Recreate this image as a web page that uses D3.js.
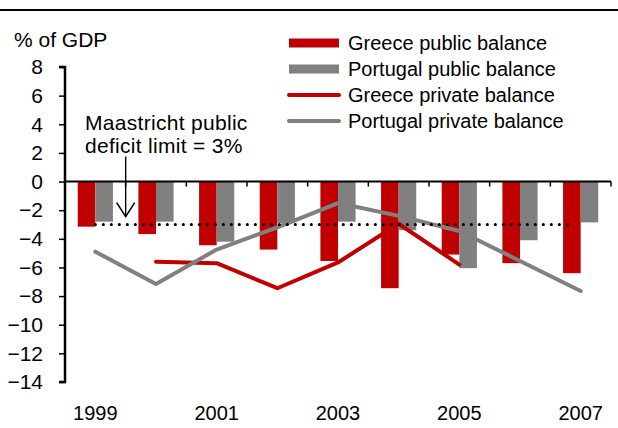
<!DOCTYPE html>
<html>
<head>
<meta charset="utf-8">
<script src="https://cdn.jsdelivr.net/npm/d3@7"></script>
<style>
  html, body { margin: 0; padding: 0; background: #fff; }
  svg { display: block; font-family: "Liberation Sans", Arial, sans-serif; }
</style>
</head>
<body>
<svg id="chart" width="618" height="428"></svg>
<script>
// Public and private sector balances, % of GDP
const years = [1999, 2000, 2001, 2002, 2003, 2004, 2005, 2006, 2007];
const greecePublic   = [-3.15, -3.67, -4.45, -4.75, -5.55, -7.45, -5.1, -5.7, -6.4];
const portugalPublic = [-2.8, -2.8, -4.2, -2.9, -2.8, -3.4, -6.05, -4.1, -2.85];
const greecePrivate  = [null, -5.6, -5.7, -7.45, -5.65, -2.95, -5.8, null, null];
const portugalPrivate = [-4.9, -7.15, -4.75, -3.2, -1.5, -2.4, -3.45, -5.55, -7.65];
const maastrichtLimit = -3;
const yTicks = [-14, -12, -10, -8, -6, -4, -2, 0, 2, 4, 6, 8];
const yearLabels = [1999, 2001, 2003, 2005, 2007];
const seriesNames = ["Greece public balance", "Portugal public balance",
                     "Greece private balance", "Portugal private balance"];

const RED = "#C00000", GREY = "#808080";

const svg = d3.select("#chart");

const x = d3.scaleBand().domain(years).range([65, 611]).padding(0);
const y = d3.scaleLinear().domain([-14, 8]).range([382, 67]);
const bw = x.bandwidth();
const barW = bw * 0.29;
const cx = yr => x(yr) + bw / 2;

// top rule
svg.append("line").attr("x1", 0).attr("x2", 618).attr("y1", 10).attr("y2", 10)
  .attr("stroke", "#000").attr("stroke-width", 2);

// unit label
svg.append("text").attr("x", 14).attr("y", 47).attr("font-size", 21)
  .text("% of GDP");

// bars
const g = svg.append("g");
g.selectAll("rect.gr").data(years).join("rect").attr("class", "gr")
  .attr("x", d => cx(d) - barW)
  .attr("width", barW)
  .attr("y", (d, i) => Math.min(y(0), y(greecePublic[i])))
  .attr("height", (d, i) => Math.abs(y(greecePublic[i]) - y(0)))
  .attr("fill", RED);
g.selectAll("rect.pt").data(years).join("rect").attr("class", "pt")
  .attr("x", d => cx(d))
  .attr("width", barW)
  .attr("y", (d, i) => Math.min(y(0), y(portugalPublic[i])))
  .attr("height", (d, i) => Math.abs(y(portugalPublic[i]) - y(0)))
  .attr("fill", GREY);

// private balance lines
const line = d3.line()
  .defined(d => d.v !== null)
  .x(d => cx(d.year))
  .y(d => y(d.v));
g.append("path")
  .datum(years.map((yr, i) => ({ year: yr, v: greecePrivate[i] })))
  .attr("d", line).attr("fill", "none").attr("stroke", RED)
  .attr("stroke-width", 4).attr("stroke-linecap", "round").attr("stroke-linejoin", "round");
g.append("path")
  .datum(years.map((yr, i) => ({ year: yr, v: portugalPrivate[i] })))
  .attr("d", line).attr("fill", "none").attr("stroke", GREY)
  .attr("stroke-width", 4).attr("stroke-linecap", "round").attr("stroke-linejoin", "round");

// Maastricht 3% deficit limit (dotted)
g.append("line")
  .attr("x1", cx(years[0])).attr("x2", cx(years[years.length - 1]) - 8)
  .attr("y1", y(maastrichtLimit)).attr("y2", y(maastrichtLimit))
  .attr("stroke", "#000").attr("stroke-width", 3.2)
  .attr("stroke-linecap", "round").attr("stroke-dasharray", "0,8");

// annotation with arrow
const ann = svg.append("g");
ann.append("text").attr("x", 85).attr("y", 130).attr("font-size", 21)
  .attr("letter-spacing", 0.3).text("Maastricht public");
ann.append("text").attr("x", 85).attr("y", 153).attr("font-size", 21)
  .attr("letter-spacing", 0.3).text("deficit limit = 3%");
const ax = x(years[1]);
ann.append("line").attr("x1", ax).attr("x2", ax)
  .attr("y1", y(1.75)).attr("y2", y(-2.45))
  .attr("stroke", "#000").attr("stroke-width", 1.4);
ann.append("path")
  .attr("d", `M${ax - 9},${y(-2.45) - 14} L${ax},${y(-2.45)} L${ax + 9},${y(-2.45) - 14}`)
  .attr("fill", "none").attr("stroke", "#000").attr("stroke-width", 1.6);

// y axis
const yAxis = svg.append("g").attr("transform", "translate(65,0)")
  .call(d3.axisLeft(y).tickValues(yTicks).tickSize(6).tickPadding(16).tickFormat(d3.format("d")));
yAxis.select(".domain").attr("stroke-width", 2.5).attr("d", `M-6,${y(8)}H0V${y(-14)}H-6`);
yAxis.selectAll(".tick line").attr("stroke-width", 1.5);
yAxis.selectAll(".tick text").attr("font-size", 21).attr("font-family", "Liberation Sans, Arial, sans-serif")
  .attr("fill", "#000");

// zero line with ticks at category boundaries
const xAxis = svg.append("g");
xAxis.append("line").attr("x1", 65).attr("x2", x(years[years.length - 1]) + bw)
  .attr("y1", y(0)).attr("y2", y(0)).attr("stroke", "#000").attr("stroke-width", 2);
xAxis.selectAll("line.tk").data(years).join("line").attr("class", "tk")
  .attr("x1", d => x(d) + bw).attr("x2", d => x(d) + bw)
  .attr("y1", y(0)).attr("y2", y(0) + 5)
  .attr("stroke", "#000").attr("stroke-width", 1.5);
xAxis.selectAll("text").data(yearLabels).join("text")
  .attr("x", d => cx(d)).attr("y", 420).attr("text-anchor", "middle")
  .attr("font-size", 20).text(d => d);

// legend
const legend = svg.append("g").attr("transform", "translate(289,0)");
const rowY = [43, 69, 95, 121];
seriesNames.forEach((name, i) => {
  const col = i % 2 === 0 ? RED : GREY;
  if (i < 2) {
    legend.append("rect").attr("x", 0).attr("y", rowY[i] - 4.5).attr("width", 50).attr("height", 9)
      .attr("fill", col);
  } else {
    legend.append("line").attr("x1", 0).attr("x2", 50).attr("y1", rowY[i]).attr("y2", rowY[i])
      .attr("stroke", col).attr("stroke-width", 4).attr("stroke-linecap", "round");
  }
  legend.append("text").attr("x", 59).attr("y", rowY[i] + 6.5).attr("font-size", 20)
    .text(name);
});
</script>
</body>
</html>
